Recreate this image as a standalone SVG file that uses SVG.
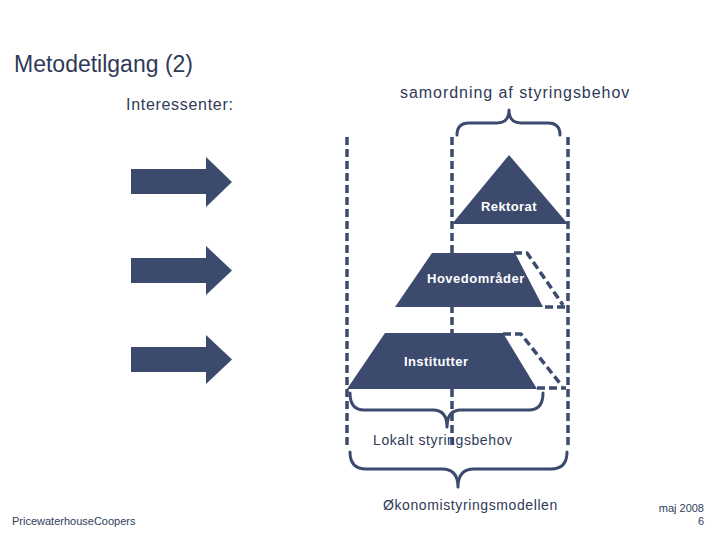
<svg xmlns="http://www.w3.org/2000/svg" width="720" height="540" viewBox="0 0 720 540">
<style>
.shape{fill:#3b4a6d}
.dash{fill:none;stroke:#3b4a6d;stroke-width:3.5;stroke-dasharray:8 4}
.brace{fill:none;stroke:#3b4a6d;stroke-width:3;stroke-linejoin:round;stroke-linecap:round}
.ghost{fill:#ffffff;stroke:none}
.lbl{font-family:"Liberation Sans",Arial,sans-serif;fill:#2f3a56}
.in{font-family:"Liberation Sans",Arial,sans-serif;fill:#ffffff;font-weight:bold;font-size:13px}
.foot{font-family:"Liberation Sans",Arial,sans-serif;fill:#2f3d5c;font-size:11px}
</style>
<rect width="720" height="540" fill="#ffffff"/>
<g id="connectors">
<line class="dash" x1="347" y1="137" x2="347" y2="447"/>
<line class="dash" x1="452" y1="137" x2="452" y2="445"/>
<line class="dash" x1="568" y1="137" x2="568" y2="447"/>
</g>
<g id="title"><text class="lbl" x="14" y="72" font-size="23" fill="#39404f">Metodetilgang (2)</text></g>
<g id="interessenter"><text class="lbl" x="126" y="110" font-size="16" letter-spacing="0.7">Interessenter:</text></g>
<g id="samordning"><text class="lbl" x="400" y="98" font-size="16" letter-spacing="0.95">samordning af styringsbehov</text></g>
<g id="arrow1"><polygon class="shape" points="131,169 206,169 206,157 232,182 206,207 206,194 131,194"/></g>
<g id="arrow2"><polygon class="shape" points="131,258 206,258 206,246 232,270.5 206,295 206,283 131,283"/></g>
<g id="arrow3"><polygon class="shape" points="131,347 206,347 206,335 232,359.5 206,384 206,372 131,372"/></g>
<g id="rektorat">
<polygon class="shape" points="509,155 568,224 452,224"/>
<text class="in" x="481" y="211" letter-spacing="0.4">Rektorat</text>
</g>
<g id="hovedomraader">
<polygon class="shape" points="432,253 515,253 543,307 395,307"/>
<text class="in" x="427" y="283" letter-spacing="0.5">Hovedområder</text>
<polygon class="ghost" points="517,251 529,251 566,307 545,307"/>
<path class="dash" d="M514,253 H527 L563,305 M545,307 H566" stroke-linejoin="round"/>
</g>
<g id="institutter">
<polygon class="shape" points="385,333 503,333 537,389 347,389"/>
<text class="in" x="404" y="366" letter-spacing="0.4">Institutter</text>
<polygon class="ghost" points="505,331 522,331 565,389 539,389"/>
<path class="dash" d="M503,334 H521 L562,386 M537,388 H566" stroke-linejoin="round"/>
</g>
<g id="braces">
<path class="brace" d="M457,135 Q457,123 469,123 H497 Q509,123 509,110 Q509,123 521,123 H548 Q560,123 560,135"/>
<path class="brace" d="M350,393 Q350,410 364,410 H433 Q447,410 447,427 Q447,410 461,410 H529 Q543,410 543,393"/>
<path class="brace" d="M350,452 Q350,469 366,469 H442 Q458,469 458,487 Q458,469 474,469 H551 Q567,469 567,452"/>
</g>
<g id="lokalt"><text class="lbl" x="373" y="445" font-size="14" letter-spacing="0.6">Lokalt styringsbehov</text></g>
<g id="okonomi"><text class="lbl" x="383" y="510" font-size="14" letter-spacing="0.6">Økonomistyringsmodellen</text></g>
<g id="footer">
<text class="foot" x="12" y="525">PricewaterhouseCoopers</text>
<text class="foot" x="704" y="512" text-anchor="end">maj 2008</text>
<text class="foot" x="704" y="525" text-anchor="end">6</text>
</g>
</svg>
